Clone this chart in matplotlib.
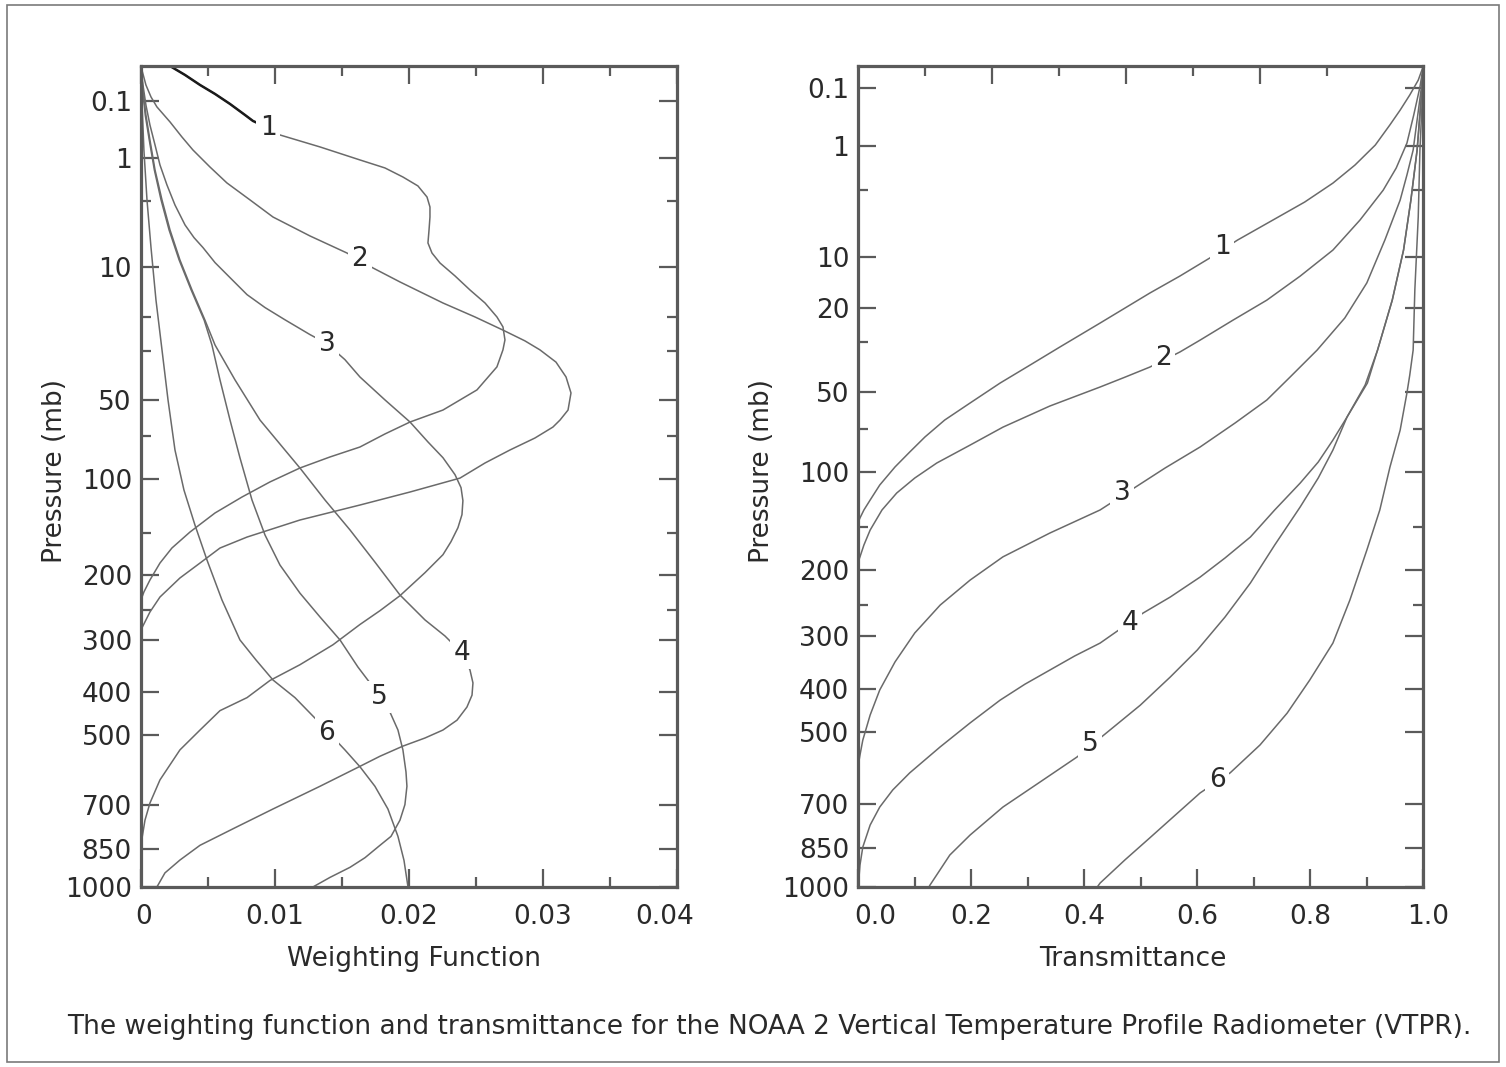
import numpy as np
import matplotlib.pyplot as plt
from matplotlib.patches import Rectangle
from matplotlib.transforms import ScaledTranslation

plt.rcParams['font.family'] = 'DejaVu Sans'

# Weighting functions of the six VTPR channels: pressure (mb) and weight
wf1_p = [0.00506, 0.0142, 0.0343, 0.065, 0.118, 0.206, 0.269, 0.36, 0.471, 0.714, 1.067,
         1.338, 1.70, 2.12, 2.74, 3.40, 4.17, 5.34, 6.73, 7.97, 9.36, 11.4, 13.96, 16.67,
         19.98, 22.6, 26.4, 29.6, 35.7, 45.3, 55.1, 61.6, 68.6, 76.9, 83.7, 91.7, 102.6,
         115.4, 130.1, 149.4, 167.1, 185, 206.9, 223.4, 235]
wf1_w = [0.00217, 0.00329, 0.00441, 0.00553, 0.00665, 0.00777, 0.00836, 0.0095, 0.01038,
         0.01337, 0.01635, 0.01822, 0.01956, 0.02068, 0.02136, 0.02158, 0.02158, 0.02151,
         0.02143, 0.02173, 0.02233, 0.02345, 0.02457, 0.02569, 0.02658, 0.02703, 0.02718,
         0.02703, 0.02658, 0.02509, 0.02255, 0.02009, 0.01822, 0.01635, 0.01411, 0.01187,
         0.00963, 0.00754, 0.00553, 0.00366, 0.00231, 0.00142, 0.00067, 0.00022, 0.0]
wf2_p = [0.00506, 0.00826, 0.0343, 0.0786, 0.138, 0.281, 0.507, 0.787, 1.302, 1.973, 2.92,
         4.17, 5.95, 7.97, 10.1, 12.45, 16.67, 19.98, 23.5, 26.7, 29.6, 33.9, 39.7, 46.7,
         55.1, 60.5, 64.5, 71.1, 78.9, 88.0, 99.5, 111, 122.6, 137, 154.8, 167.1, 185,
         204.2, 230.6, 253.1, 278.7, 285]
wf2_w = [0.0, 0.00007, 0.00037, 0.00075, 0.00119, 0.00217, 0.00306, 0.00388, 0.00515,
         0.00642, 0.00814, 0.00986, 0.01262, 0.01538, 0.01732, 0.01934, 0.02255, 0.02494,
         0.02703, 0.02867, 0.02979, 0.03099, 0.03174, 0.03211, 0.03189, 0.03129, 0.03076,
         0.02942, 0.02755, 0.02569, 0.02382, 0.02009, 0.01635, 0.01187, 0.00792, 0.0059,
         0.00441, 0.00291, 0.00142, 0.00067, 0.00007, 0.0]
wf3_p = [0.00506, 0.0343, 0.1245, 0.319, 0.669, 1.232, 2.07, 3.26, 4.86, 6.13, 7.28, 9.30,
         11.69, 14.89, 17.7, 20.7, 24.8, 27.6, 33.0, 39.7, 50.0, 61.6, 73.6, 84.2, 96.8,
         107.3, 118.6, 131.7, 144.8, 159.9, 174.9, 197.2, 228.7, 251, 273, 307.5, 344.6,
         376, 412.4, 441.7, 488, 539, 623, 694, 750, 836]
wf3_w = [0.0, 0.00015, 0.00037, 0.00067, 0.00105, 0.00142, 0.00194, 0.00254, 0.00329,
         0.00396, 0.00463, 0.00553, 0.00665, 0.00792, 0.00926, 0.01075, 0.01262, 0.01389,
         0.01523, 0.01635, 0.01822, 0.02009, 0.02143, 0.02255, 0.02345, 0.0239, 0.02404,
         0.02397, 0.02367, 0.02315, 0.02255, 0.02121, 0.01934, 0.01785, 0.01635, 0.01434,
         0.01187, 0.00963, 0.00792, 0.0059, 0.00441, 0.00291, 0.00142, 0.00067, 0.0003, 0.0]
wf4_p = [0.00506, 0.0496, 0.206, 0.564, 1.413, 2.92, 5.34, 8.92, 13.96, 20.8, 28.0, 40.9,
         60.5, 78.9, 91.7, 118, 147.2, 183.8, 227.7, 265.6, 292.2, 322.4, 355, 381, 407,
         433.5, 464, 488, 508, 529, 556, 584, 642, 713, 776, 838, 893, 943, 1000]
wf4_w = [0.0, 0.00015, 0.00037, 0.00067, 0.00105, 0.00157, 0.00217, 0.00291, 0.00381,
         0.00478, 0.00553, 0.00702, 0.00889, 0.01075, 0.01187, 0.01374, 0.01561, 0.01747,
         0.01934, 0.02121, 0.0227, 0.02397, 0.02457, 0.02479, 0.02472, 0.02434, 0.0236,
         0.02255, 0.02121, 0.01956, 0.01785, 0.01635, 0.01337, 0.00986, 0.00702, 0.00441,
         0.00291, 0.00179, 0.00119]
wf5_p = [0.00506, 0.0496, 0.206, 0.564, 1.413, 2.92, 5.34, 8.92, 13.96, 20.8, 28.0, 40.9,
         60.5, 84.2, 118, 152.5, 187.5, 225, 260.9, 299, 349, 381, 411, 444.9, 488, 539,
         600, 642, 699, 750, 806, 838, 884, 921, 961, 1000]
wf5_w = [0.0, 0.00012, 0.00032, 0.00062, 0.001, 0.0015, 0.0021, 0.00285, 0.00375, 0.00472,
         0.0053, 0.0059, 0.00665, 0.00739, 0.00829, 0.00926, 0.01038, 0.01187, 0.01337,
         0.01486, 0.0162, 0.0171, 0.01777, 0.01859, 0.01919, 0.01956, 0.01979, 0.01986,
         0.01971, 0.01934, 0.01867, 0.01785, 0.01673, 0.01561, 0.01411, 0.01284]
wf6_p = [0.00506, 0.094, 0.787, 2.92, 7.28, 16.0, 29.6, 50.0, 78.9, 109.3, 142, 181.3, 235,
         299, 335.5, 375, 412.4, 464, 490, 539, 585, 642, 713, 806, 894, 1000]
wf6_w = [0.0, 0.00007, 0.00022, 0.00045, 0.00075, 0.00112, 0.00157, 0.00202, 0.00254,
         0.00321, 0.00403, 0.00493, 0.00605, 0.00739, 0.00859, 0.00986, 0.0115, 0.01314,
         0.01389, 0.01523, 0.01635, 0.01747, 0.01844, 0.01919, 0.01964, 0.01994]

# Transmittance of the six channels: pressure (mb) and transmittance
tr1_p = [0.0215, 0.062, 0.145, 0.29, 0.51, 0.98, 1.69, 2.59, 3.86, 5.42, 7.66, 10.15, 13.2,
         16.6, 20.1, 24.1, 31.6, 38.3, 45.9, 55.5, 64.8, 75.1, 85.2, 96.1, 110.6, 123.8,
         133.1, 141, 145]
tr1_t = [1.0, 0.991, 0.976, 0.959, 0.941, 0.915, 0.879, 0.840, 0.790, 0.734, 0.671, 0.622,
         0.569, 0.516, 0.472, 0.428, 0.357, 0.304, 0.251, 0.198, 0.153, 0.118, 0.091, 0.065,
         0.038, 0.021, 0.010, 0.003, 0.0]
tr2_p = [0.0215, 0.0945, 0.355, 0.925, 1.82, 3.02, 5.42, 8.98, 13.2, 18.2, 23.3, 29.3, 33.4,
         39.1, 43.3, 47.7, 57.1, 69.0, 80.4, 93.1, 104.8, 117.5, 133.1, 153.5, 170, 184, 190]
tr2_t = [1.0, 0.994, 0.983, 0.971, 0.952, 0.929, 0.888, 0.840, 0.782, 0.723, 0.663, 0.605,
         0.569, 0.516, 0.472, 0.428, 0.339, 0.256, 0.198, 0.139, 0.100, 0.068, 0.042, 0.021,
         0.010, 0.003, 0.0]
tr3_p = [0.0215, 0.112, 0.429, 1.132, 2.15, 3.71, 7.64, 14.5, 22.7, 32.7, 43.3, 54.0, 66.5,
         81.7, 96.9, 133.1, 156.7, 184, 213.7, 249.4, 294.1, 346.3, 402.7, 458.5, 519.6,
         558.9, 586.2]
tr3_t = [1.0, 0.996, 0.989, 0.982, 0.971, 0.959, 0.932, 0.900, 0.861, 0.812, 0.764, 0.723,
         0.667, 0.605, 0.543, 0.428, 0.339, 0.256, 0.198, 0.145, 0.100, 0.065, 0.038, 0.021,
         0.008, 0.003, 0.0]
tr4_p = [0.0215, 0.186, 1.132, 3.71, 8.98, 18.2, 32.7, 45.9, 63.1, 77.1, 92.4, 109, 133.1,
         161, 185.4, 209.7, 237.6, 261.7, 311.6, 335, 362, 390.5, 424.7, 477, 537, 608, 658,
         711, 770, 847, 914, 1000]
tr4_t = [1.0, 0.996, 0.989, 0.978, 0.965, 0.945, 0.919, 0.901, 0.865, 0.840, 0.814, 0.782,
         0.737, 0.694, 0.649, 0.605, 0.552, 0.504, 0.428, 0.383, 0.339, 0.295, 0.251, 0.198,
         0.145, 0.091, 0.061, 0.038, 0.021, 0.008, 0.003, 0.0]
tr5_p = [0.0215, 0.186, 1.132, 3.71, 8.98, 18.2, 32.7, 46.8, 63.1, 83.8, 104.8, 130.3, 170,
         217.7, 268, 324, 376, 436, 564, 634, 711, 804, 876, 992, 1000]
tr5_t = [1.0, 0.996, 0.989, 0.978, 0.965, 0.945, 0.919, 0.897, 0.865, 0.840, 0.814, 0.782,
         0.737, 0.694, 0.649, 0.600, 0.552, 0.499, 0.387, 0.322, 0.256, 0.198, 0.162, 0.127,
         0.125]
tr6_p = [0.0215, 0.186, 1.132, 5.14, 15.9, 32.7, 42.4, 50.5, 70.8, 96.1, 133.1, 176, 242,
         311.6, 382, 454, 532, 608, 667, 737, 814, 894, 984, 1000]
tr6_t = [1.0, 0.998, 0.994, 0.991, 0.985, 0.982, 0.976, 0.971, 0.959, 0.941, 0.923, 0.900,
         0.870, 0.840, 0.799, 0.759, 0.711, 0.658, 0.605, 0.561, 0.516, 0.472, 0.428, 0.423]

channels = ['1', '2', '3', '4', '5', '6']
wf_label_w = [0.0095, 0.01635, 0.01389, 0.02397, 0.01777, 0.01389]
wf_label_p = [0.36, 8.78, 27.6, 322, 411, 495]
tr_label_t = [0.644, 0.540, 0.467, 0.481, 0.410, 0.635]
tr_label_p = [8.56, 35.6, 117.5, 277.6, 529, 629]

left_major = [0.1, 1, 10, 50, 100, 200, 300, 400, 500, 700, 850, 1000]
left_minor = [3, 20, 30, 70, 150, 250]
right_major = [0.1, 1, 10, 20, 50, 100, 200, 300, 400, 500, 700, 850, 1000]
right_minor = [3, 30, 70, 150, 250]

caption = ('The weighting function and transmittance for the NOAA 2 Vertical '
           'Temperature Profile Radiometer (VTPR).')

KAPPA = 2.0 / 7.0
fwd = lambda p: np.power(np.maximum(p, 1e-9), KAPPA)
inv = lambda v: np.power(np.maximum(v, 1e-9), 1.0 / KAPPA)

line_col = '#6a6a6a'
axis_col = '#5a5a5a'
text_col = '#2a2a2a'
fs = 19

fig = plt.figure(figsize=(15.06, 10.67), dpi=100)
fig.patches.append(Rectangle((0.0045, 0.005), 0.991, 0.99, transform=fig.transFigure,
                             fill=False, ec='#7a7a7a', lw=1.2))

ax1 = fig.add_axes([0.0936, 0.1687, 0.3557, 0.7694])
ax2 = fig.add_axes([0.5699, 0.1687, 0.3752, 0.7694])


def style_axis(ax, major, minor, top_p):
    ax.set_yscale('function', functions=(fwd, inv))
    ax.set_ylim(1000, top_p)
    ax.set_yticks(major)
    ax.set_yticklabels([('%g' % v) for v in major])
    ax.set_yticks(minor, minor=True)
    for s in ax.spines.values():
        s.set_linewidth(2.3)
        s.set_color(axis_col)
        s.set_zorder(4)
    ax.tick_params(which='both', direction='in', color=axis_col, width=1.6,
                   labelsize=fs, labelcolor=text_col, left=True, right=True)
    ax.tick_params(which='major', length=13)
    ax.tick_params(which='minor', length=7)
    ax.tick_params(axis='y', pad=6.5)
    ax.tick_params(axis='x', pad=12)
    ax.set_ylabel('Pressure (mb)', fontsize=fs, color=text_col)


def shift(lbl, dx):
    lbl.set_transform(lbl.get_transform() + ScaledTranslation(dx / 100.0, 0, fig.dpi_scale_trans))


def put_labels(ax, xs, ps):
    for lab, x, p in zip(channels, xs, ps):
        ax.text(x, p, lab, fontsize=fs, color=text_col, ha='center', va='center', zorder=5,
                bbox=dict(facecolor='white', edgecolor='none', pad=2.5))


# left panel: weighting functions
style_axis(ax1, left_major, left_minor, 0.00506)
ax1.set_xlim(0, 0.04)
ax1.set_xticks([0, 0.01, 0.02, 0.03, 0.04])
ax1.set_xticklabels(['0', '0.01', '0.02', '0.03', '0.04'])
ax1.set_xticks(np.arange(0.005, 0.04, 0.01), minor=True)
ax1.tick_params(which='both', top=True)
ax1.set_xlabel('Weighting Function', fontsize=fs, color=text_col)
ax1.yaxis.set_label_coords(-0.136, 0.507)
ax1.xaxis.set_label_coords(0.509, -0.072)
xl = ax1.get_xticklabels()
shift(xl[0], 3)
shift(xl[4], -12)

wf = [(wf1_p, wf1_w), (wf2_p, wf2_w), (wf3_p, wf3_w),
      (wf4_p, wf4_w), (wf5_p, wf5_w), (wf6_p, wf6_w)]
for p, w in wf:
    ax1.plot(w, p, color=line_col, lw=1.1, zorder=2)
# the top part of channel 1 is drawn darker in the original
p1 = np.array(wf1_p)
w1 = np.array(wf1_w)
top = p1 <= 0.36
ax1.plot(w1[top], p1[top], color='#1a1a1a', lw=1.8, zorder=3)
put_labels(ax1, wf_label_w, wf_label_p)

# right panel: transmittance
style_axis(ax2, right_major, right_minor, 0.0215)
ax2.set_xlim(0, 1.0)
ax2.set_xticks([0, 0.2, 0.4, 0.6, 0.8, 1.0])
ax2.set_xticklabels(['0.0', '0.2', '0.4', '0.6', '0.8', '1.0'])
ax2.set_xticks([0.1, 0.3, 0.5, 0.7, 0.9], minor=True)
ax2.set_xlabel('Transmittance', fontsize=fs, color=text_col)
ax2.yaxis.set_label_coords(-0.147, 0.507)
ax2.xaxis.set_label_coords(0.485, -0.072)
xl = ax2.get_xticklabels()
shift(xl[0], 17)
shift(xl[5], 5)

# the top edge of the right panel carries the tick spacing of the left panel
scale = 0.04 * 565.0 / 535.7
sec = ax2.secondary_xaxis('top', functions=(lambda t: t * scale, lambda v: v / scale))
sec.set_xticks([0.01, 0.02, 0.03])
sec.set_xticks([0.005, 0.015, 0.025, 0.035], minor=True)
sec.set_xticklabels([])
sec.spines['top'].set_visible(False)
sec.tick_params(which='both', direction='in', color=axis_col, width=1.6)
sec.tick_params(which='major', length=13)
sec.tick_params(which='minor', length=7)

tr = [(tr1_p, tr1_t), (tr2_p, tr2_t), (tr3_p, tr3_t),
      (tr4_p, tr4_t), (tr5_p, tr5_t), (tr6_p, tr6_t)]
for p, t in tr:
    ax2.plot(t, p, color=line_col, lw=1.1, zorder=2)
put_labels(ax2, tr_label_t, tr_label_p)

fig.text(0.511, 0.0375, caption, fontsize=fs, color=text_col, ha='center', va='center')

fig.savefig('out.png', dpi=100)
